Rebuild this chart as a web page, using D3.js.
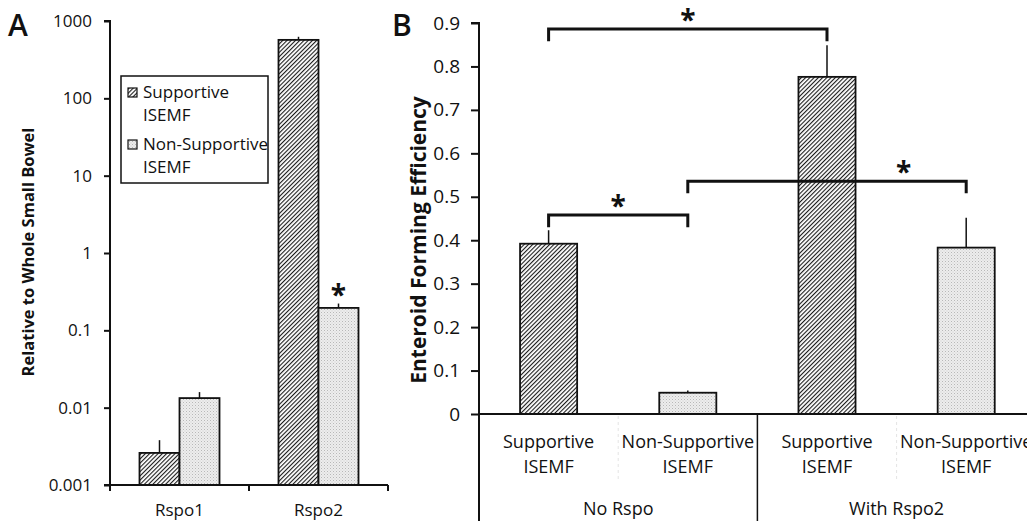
<!DOCTYPE html>
<html>
<head>
<meta charset="utf-8">
<script src="https://cdn.jsdelivr.net/npm/d3@7"></script>
<style>
body { margin: 0; background: #fff; }
text { font-family: "Open Sans", "Noto Sans", sans-serif; fill: #111; }
</style>
</head>
<body>
<div id="plot"></div>
<script>
// ---- data, panel A (log scale expression) ----
var genes = ["Rspo1", "Rspo2"];
var seriesNames = ["Supportive ISEMF", "Non-Supportive ISEMF"];
var relSupportive = [0.0026, 570];
var relSupportiveErr = [0.0012, 55];
var relNonSupportive = [0.0133, 0.195];
var relNonSupportiveErr = [0.0026, 0.027];
var logTicks = [0.001, 0.01, 0.1, 1, 10, 100, 1000];
var starsA = [1];   // gene index with * over the non-supportive bar

// ---- data, panel B (enteroid forming efficiency) ----
var groups = ["No Rspo", "With Rspo2"];
var effSupportive = [0.392, 0.776];
var effSupportiveErr = [0.031, 0.073];
var effNonSupportive = [0.049, 0.383];
var effNonSupportiveErr = [0.005, 0.069];
var effTicks = [0, 0.1, 0.2, 0.3, 0.4, 0.5, 0.6, 0.7, 0.8, 0.9];
// brackets: [from bar, to bar, level, leg end, star position along bracket]
var brackets = [[0, 2, 0.886, 0.858, 0.5], [0, 1, 0.458, 0.430, 0.5], [1, 3, 0.536, 0.508, 0.775]];

var W = 1027, H = 521;
var svg = d3.select("#plot").append("svg")
    .attr("width", W)
    .attr("height", H);

var defs = svg.append("defs");
var hatch = defs.append("pattern")
    .attr("id", "hatch")
    .attr("patternUnits", "userSpaceOnUse")
    .attr("width", 3).attr("height", 3)
    .attr("patternTransform", "rotate(45)");
hatch.append("rect").attr("width", 3).attr("height", 3).attr("fill", "#fff");
hatch.append("line").attr("x1", 0).attr("y1", 0).attr("x2", 0).attr("y2", 3)
    .attr("stroke", "#1a1a1a").attr("stroke-width", 2.2);

var dots = defs.append("pattern")
    .attr("id", "dots")
    .attr("patternUnits", "userSpaceOnUse")
    .attr("width", 3).attr("height", 3);
dots.append("rect").attr("width", 3).attr("height", 3).attr("fill", "#ededed");
dots.append("rect").attr("width", 1).attr("height", 1).attr("fill", "#b8b8b8");
dots.append("rect").attr("x", 1.5).attr("y", 1.5).attr("width", 1).attr("height", 1).attr("fill", "#cfcfcf");

var fills = ["url(#hatch)", "url(#dots)"];

function star(g, x, yCenter, size) {
    g.append("text")
        .attr("x", x)
        .attr("y", yCenter + size * 0.56)
        .attr("text-anchor", "middle")
        .style("font-size", size + "px")
        .style("font-weight", "bold")
        .text("*");
}

// ================= Panel A =================
var gA = svg.append("g");

var xA = d3.scaleBand().domain(genes).range([110, 388]);
var yA = d3.scaleLog().domain([0.001, 1000]).range([485, 21]);
var barWA = 40;

var dataA = genes.map(function(g, i) {
    return [
        {gene: g, s: 0, v: relSupportive[i], e: relSupportiveErr[i]},
        {gene: g, s: 1, v: relNonSupportive[i], e: relNonSupportiveErr[i]}
    ];
}).flat();

function xBarA(d) {
    return xA(d.gene) + xA.bandwidth() / 2 + (d.s - 1) * barWA;
}

gA.selectAll(".errA").data(dataA).enter().append("line")
    .attr("x1", function(d) { return xBarA(d) + barWA / 2; })
    .attr("x2", function(d) { return xBarA(d) + barWA / 2; })
    .attr("y1", function(d) { return yA(d.v); })
    .attr("y2", function(d) { return yA(d.v + d.e); })
    .attr("stroke", "#111").attr("stroke-width", 1.5);

gA.selectAll(".barA").data(dataA).enter().append("rect")
    .attr("x", xBarA)
    .attr("y", function(d) { return yA(d.v); })
    .attr("width", barWA)
    .attr("height", function(d) { return yA(0.001) - yA(d.v); })
    .attr("fill", function(d) { return fills[d.s]; })
    .attr("stroke", "#111").attr("stroke-width", 1.8);

var yAxisA = d3.axisLeft(yA).tickValues(logTicks)
    .tickFormat(d3.format("~g")).tickSize(6).tickPadding(12);
gA.append("g").attr("transform", "translate(110,0)").call(yAxisA)
    .call(function(g) {
        g.select(".domain").attr("stroke", "#111").attr("stroke-width", 2)
            .attr("d", "M-6,21H0V485H-6");
        g.selectAll(".tick line").attr("stroke", "#111").attr("stroke-width", 2);
        g.selectAll(".tick text").style("font-size", "17px")
            .style("font-family", "'Open Sans', sans-serif").attr("fill", "#111");
    });

// x axis A
gA.append("line").attr("x1", 110).attr("x2", 388).attr("y1", 485).attr("y2", 485)
    .attr("stroke", "#111").attr("stroke-width", 2);
var edgesA = genes.map(function(g) { return xA(g); }).concat([xA.range()[1]]);
gA.selectAll(".edgeA").data(edgesA).enter().append("line")
    .attr("x1", function(d) { return d; }).attr("x2", function(d) { return d; })
    .attr("y1", 485).attr("y2", 491)
    .attr("stroke", "#111").attr("stroke-width", 2);
gA.selectAll(".catA").data(genes).enter().append("text")
    .attr("x", function(d) { return xA(d) + xA.bandwidth() / 2; })
    .attr("y", 516)
    .attr("text-anchor", "middle")
    .style("font-size", "17px")
    .text(function(d) { return d; });

starsA.forEach(function(i) {
    var top = yA(relNonSupportive[i] + relNonSupportiveErr[i]);
    star(gA, xA(genes[i]) + xA.bandwidth() / 2 + barWA / 2, top - 14, 28);
});

gA.append("text")
    .attr("transform", "translate(34,252) rotate(-90)")
    .attr("text-anchor", "middle")
    .style("font-size", "16.5px").style("font-weight", "bold")
    .text("Relative to Whole Small Bowel");

gA.append("text").attr("x", 8).attr("y", 36)
    .style("font-size", "30px").style("font-weight", "600").text("A");

// legend
var leg = gA.append("g");
leg.append("rect").attr("x", 121).attr("y", 76).attr("width", 147).attr("height", 107)
    .attr("fill", "#fff").attr("stroke", "#111").attr("stroke-width", 1.5);
seriesNames.forEach(function(name, i) {
    var y0 = 88 + i * 52;
    leg.append("rect").attr("x", 128).attr("y", y0).attr("width", 9).attr("height", 9)
        .attr("fill", fills[i]).attr("stroke", "#111").attr("stroke-width", 1.2);
    var parts = name.split(" ");
    var t = leg.append("text").attr("x", 143).attr("y", y0 + 10)
        .style("font-size", "17px");
    t.append("tspan").attr("x", 143).text(parts[0]);
    t.append("tspan").attr("x", 143).attr("dy", 23).text(parts[1]);
});

// ================= Panel B =================
var gB = svg.append("g");
var catsB = [];
groups.forEach(function(g, gi) {
    seriesNames.forEach(function(s, si) {
        catsB.push({key: gi + "-" + si, group: gi, s: si, name: s,
            v: si === 0 ? effSupportive[gi] : effNonSupportive[gi],
            e: si === 0 ? effSupportiveErr[gi] : effNonSupportiveErr[gi]});
    });
});

var xB = d3.scaleBand().domain(catsB.map(function(d) { return d.key; }))
    .range([479, 479 + 4 * 139.2]);
var yB = d3.scaleLinear().domain([0, 0.9]).range([414, 23]);
var barWB = xB.bandwidth() * 0.41;

function cx(d) { return xB(d.key) + xB.bandwidth() / 2; }

gB.selectAll(".errB").data(catsB).enter().append("line")
    .attr("x1", cx).attr("x2", cx)
    .attr("y1", function(d) { return yB(d.v); })
    .attr("y2", function(d) { return yB(d.v + d.e); })
    .attr("stroke", "#111").attr("stroke-width", 1.5);

gB.selectAll(".barB").data(catsB).enter().append("rect")
    .attr("x", function(d) { return cx(d) - barWB / 2; })
    .attr("y", function(d) { return yB(d.v); })
    .attr("width", barWB)
    .attr("height", function(d) { return yB(0) - yB(d.v); })
    .attr("fill", function(d) { return fills[d.s]; })
    .attr("stroke", "#111").attr("stroke-width", 1.8);

var yAxisB = d3.axisLeft(yB).tickValues(effTicks)
    .tickFormat(d3.format("~g")).tickSize(8).tickPadding(11);
gB.append("g").attr("transform", "translate(479,0)").call(yAxisB)
    .call(function(g) {
        g.select(".domain").attr("stroke", "#111").attr("stroke-width", 2)
            .attr("d", "M-8,23H0V" + H);
        g.selectAll(".tick line").attr("stroke", "#111").attr("stroke-width", 2);
        g.selectAll(".tick text").style("font-size", "19px")
            .style("font-family", "'Open Sans', sans-serif").attr("fill", "#111");
    });

gB.append("line").attr("x1", 479).attr("x2", W).attr("y1", 414).attr("y2", 414)
    .attr("stroke", "#111").attr("stroke-width", 2);

// group dividers below axis
var groupEdges = groups.map(function(g, gi) { return xB(gi + "-0"); }).slice(1);
gB.selectAll(".gdiv").data(groupEdges).enter().append("line")
    .attr("x1", function(d) { return d; }).attr("x2", function(d) { return d; })
    .attr("y1", 414).attr("y2", H)
    .attr("stroke", "#111").attr("stroke-width", 1.5);
var subEdges = groups.map(function(g, gi) { return xB(gi + "-1"); });
gB.selectAll(".sdiv").data(subEdges).enter().append("line")
    .attr("x1", function(d) { return d; }).attr("x2", function(d) { return d; })
    .attr("y1", 416).attr("y2", 480)
    .attr("stroke", "#e4e4e4").attr("stroke-width", 1)
    .attr("stroke-dasharray", "3,3");

var catText = gB.selectAll(".catB").data(catsB).enter().append("text")
    .attr("text-anchor", "middle")
    .style("font-size", "18px");
catText.append("tspan").attr("x", cx).attr("y", 448)
    .text(function(d) { return d.name.split(" ")[0]; });
catText.append("tspan").attr("x", cx).attr("y", 473)
    .text(function(d) { return d.name.split(" ")[1]; });

gB.selectAll(".grpB").data(groups).enter().append("text")
    .attr("x", function(d, gi) { return xB(gi + "-0") + xB.bandwidth(); })
    .attr("y", 515)
    .attr("text-anchor", "middle")
    .style("font-size", "18px")
    .text(function(d) { return d; });

// significance brackets
brackets.forEach(function(b) {
    var x1 = cx(catsB[b[0]]), x2 = cx(catsB[b[1]]);
    var yl = yB(b[2]), yLeg = yB(b[3]);
    gB.append("path")
        .attr("d", "M" + x1 + "," + yLeg + "V" + yl + "H" + x2 + "V" + yLeg)
        .attr("fill", "none").attr("stroke", "#111").attr("stroke-width", 3);
    star(gB, x1 + (x2 - x1) * b[4], yl - 15, 28);
});

gB.append("text")
    .attr("transform", "translate(426,240) rotate(-90)")
    .attr("text-anchor", "middle")
    .style("font-size", "21px").style("font-weight", "bold")
    .text("Enteroid Forming Efficiency");

gB.append("text").attr("x", 392).attr("y", 36)
    .style("font-size", "30px").style("font-weight", "600").text("B");
</script>
</body>
</html>
